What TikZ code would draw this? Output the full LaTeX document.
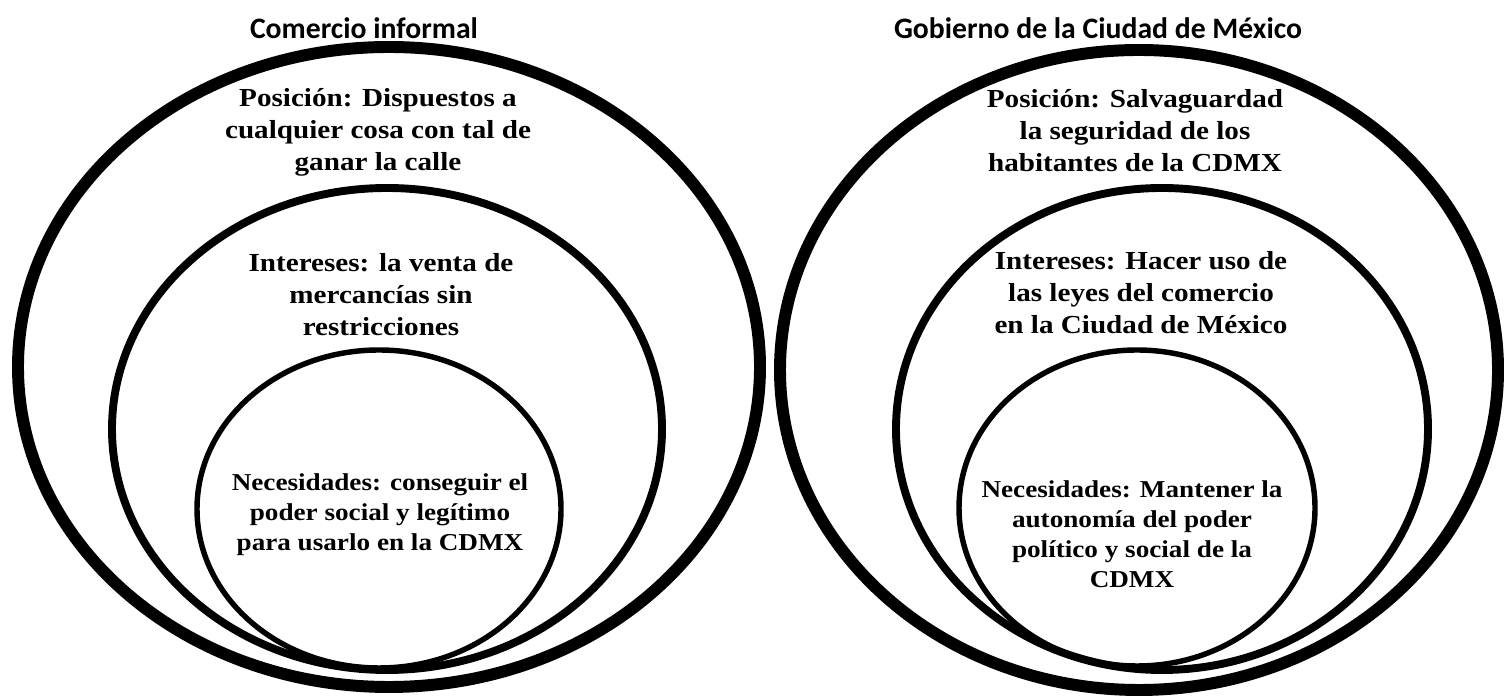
\documentclass[tikz,border=0pt]{standalone}
\usepackage{fontspec}
\setmainfont{Liberation Serif}[FakeStretch=1.12]
\newfontfamily\calibri{Carlito}
\usetikzlibrary{shapes.geometric}

\begin{document}
\begin{tikzpicture}[
        posicion/.style={ellipse, draw=black, line width=6.8pt, inner sep=0pt},
        interes/.style={ellipse, draw=black, line width=4.5pt, inner sep=0pt},
        necesidad/.style={ellipse, draw=black, line width=3.1pt, inner sep=0pt},
        party/.style={font=\calibri\bfseries\fontsize{16.9}{19}\selectfont},
        bigtext/.style={align=center, font=\bfseries\fontsize{14.8}{18.2}\selectfont},
        smalltext/.style={align=center, font=\bfseries\fontsize{13.8}{17.1}\selectfont},
    ]
    \useasboundingbox (0,0) rectangle (30.08,13.92);

    % comercio informal
    \node[posicion, minimum width=14.84cm, minimum height=12.8cm] (posL) at (7.78, 6.58) {};
    \node[interes, minimum width=11cm, minimum height=9.64cm] (intL) at (7.74, 5.34) {};
    \node[necesidad, minimum width=7.28cm, minimum height=6.36cm] (necL) at (7.58, 3.74) {};

    % gobierno cdmx
    \node[posicion, minimum width=14.36cm, minimum height=12.8cm] (posR) at (22.78, 6.52) {};
    \node[interes, minimum width=10.64cm, minimum height=9.64cm] (intR) at (23.24, 5.34) {};
    \node[necesidad, minimum width=7.12cm, minimum height=6.32cm] (necR) at (22.74, 3.76) {};

    \node[party] (titleL) at (7.28, 13.36) {Comercio informal};
    \node[party] (titleR) at (21.96, 13.36) {Gobierno de la Ciudad de México};

    \node[bigtext] (txtPosL) at (7.56, 11.28) {Posición: Dispuestos a\\cualquier cosa con tal de\\ganar la calle};
    \node[bigtext] (txtIntL) at (7.62, 8.02) {Intereses: la venta de\\mercancías sin\\restricciones};
    \node[smalltext] (txtNecL) at (7.60, 3.62) {Necesidades: conseguir el\\poder social y legítimo\\para usarlo en la CDMX};

    \node[bigtext] (txtPosR) at (22.70, 11.30) {Posición: Salvaguardad\\la seguridad de los\\habitantes de la CDMX};
    \node[bigtext] (txtIntR) at (22.82, 8.06) {Intereses: Hacer uso de\\las leyes del comercio\\en la Ciudad de México};
    \node[smalltext] (txtNecR) at (22.64, 3.24) {Necesidades: Mantener la\\autonomía del poder\\político y social de la\\CDMX};
\end{tikzpicture}
\end{document}
